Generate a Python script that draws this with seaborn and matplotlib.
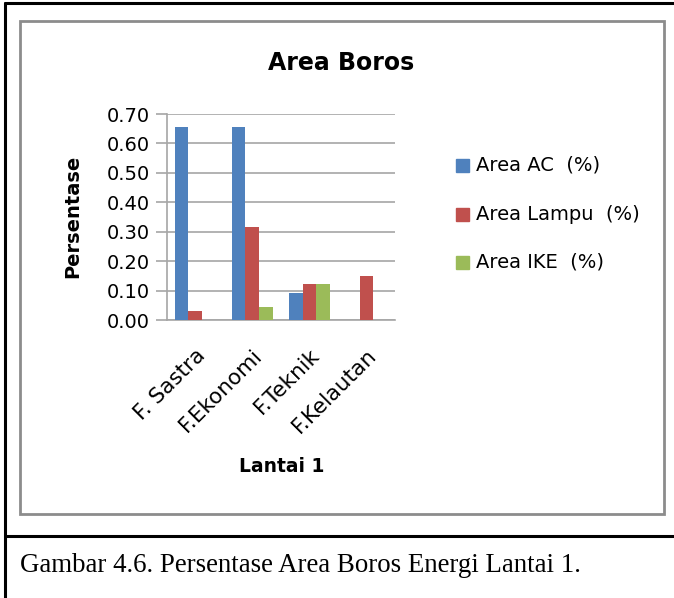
import matplotlib
matplotlib.use("Agg")
import matplotlib.pyplot as plt
import seaborn as sns
import pandas as pd
from matplotlib.patches import Rectangle
from matplotlib.lines import Line2D

categories = ["F. Sastra", "F.Ekonomi", "F.Teknik", "F.Kelautan"]
series = ["Area AC  (%)", "Area Lampu  (%)", "Area IKE  (%)"]
area_ac = [0.655, 0.655, 0.093, 0.0]
area_lampu = [0.032, 0.315, 0.124, 0.150]
area_ike = [0.0, 0.045, 0.124, 0.0]
yticks = [0.0, 0.1, 0.2, 0.3, 0.4, 0.5, 0.6, 0.7]

colors = ["#4F81BD", "#C0504D", "#9BBB59"]

rows = []
for s, vals in zip(series, [area_ac, area_lampu, area_ike]):
    for c, v in zip(categories, vals):
        rows.append({"cat": c, "series": s, "val": v})
df = pd.DataFrame(rows)

sns.set_theme(style="white")
plt.rcParams["font.family"] = ["DejaVu Sans"]
plt.rcParams["text.color"] = "black"

W, H = 674, 598
fig = plt.figure(figsize=(W / 100, H / 100), dpi=100)

def fx(x):
    return x / W

def fy(y):
    return 1 - y / H

# borders
fig.add_artist(Line2D([fx(5), fx(674)], [fy(3), fy(3)], color="black", lw=2.2, transform=fig.transFigure))
fig.add_artist(Line2D([fx(5), fx(5)], [fy(3), fy(598)], color="black", lw=2.2, transform=fig.transFigure))
fig.add_artist(Line2D([fx(5), fx(674)], [fy(536), fy(536)], color="black", lw=2.2, transform=fig.transFigure))
fig.add_artist(Rectangle((fx(20), fy(514)), fx(664) - fx(20), fy(21) - fy(514),
                         fill=False, edgecolor="#8C8C8C", lw=2.0, transform=fig.transFigure))

ax_l, ax_r, ax_t, ax_b = 166.7, 395, 114, 320
ax = fig.add_axes([fx(ax_l), fy(ax_b), fx(ax_r) - fx(ax_l), fy(ax_t) - fy(ax_b)])

sns.barplot(data=df, x="cat", y="val", hue="series", order=categories, hue_order=series,
            palette=colors, width=0.72, gap=0, saturation=1, ax=ax, legend=False, zorder=3)
for p in ax.patches:
    p.set_edgecolor("none")

ax.set_ylim(0, 0.70)
ax.set_xlim(-0.5, 3.5)
ax.set_yticks(yticks)
ax.set_yticklabels([f"{v:.2f}" for v in yticks], fontsize=14, color="black")
ax.yaxis.grid(True, color="#A6A6A6", lw=1.2, zorder=0)
ax.set_axisbelow(True)
ax.tick_params(axis="y", length=8, width=1.2, color="#A6A6A6", pad=4, left=True)
ax.tick_params(axis="x", length=0, pad=18)
ax.set_xticks(range(len(categories)))
ax.set_xticklabels(categories, rotation=45, ha="right", va="top", rotation_mode="anchor",
                   fontsize=15.5, color="black")
for sp in ["top", "right"]:
    ax.spines[sp].set_visible(False)
ax.spines["left"].set_color("#A6A6A6")
ax.spines["left"].set_linewidth(1.2)
ax.spines["bottom"].set_color("#A6A6A6")
ax.spines["bottom"].set_linewidth(1.2)
ax.set_xlabel("")
ax.set_ylabel("")

fig.text(fx(341), fy(63), "Area Boros", ha="center", va="center", fontsize=17, fontweight="bold", color="black")
fig.text(fx(73), fy(216), "Persentase", ha="center", va="center", rotation=90, fontsize=14,
         fontweight="bold", color="black")
fig.text(fx(282), fy(467), "Lantai 1", ha="center", va="center", fontsize=13.5, fontweight="bold", color="black")

leg_y = [165, 215, 262]
for s, c, yy in zip(series, colors, leg_y):
    fig.add_artist(Rectangle((fx(456), fy(yy + 6.5)), fx(13), 13 / H, color=c, transform=fig.transFigure))
    fig.text(fx(476), fy(yy), s, ha="left", va="center", fontsize=14, color="black")

fig.text(fx(20), fy(565), "Gambar 4.6. Persentase Area Boros Energi Lantai 1.", ha="left", va="center",
         fontsize=19.4, family=["Liberation Serif"], color="black")

fig.savefig("out.png", dpi=100)
